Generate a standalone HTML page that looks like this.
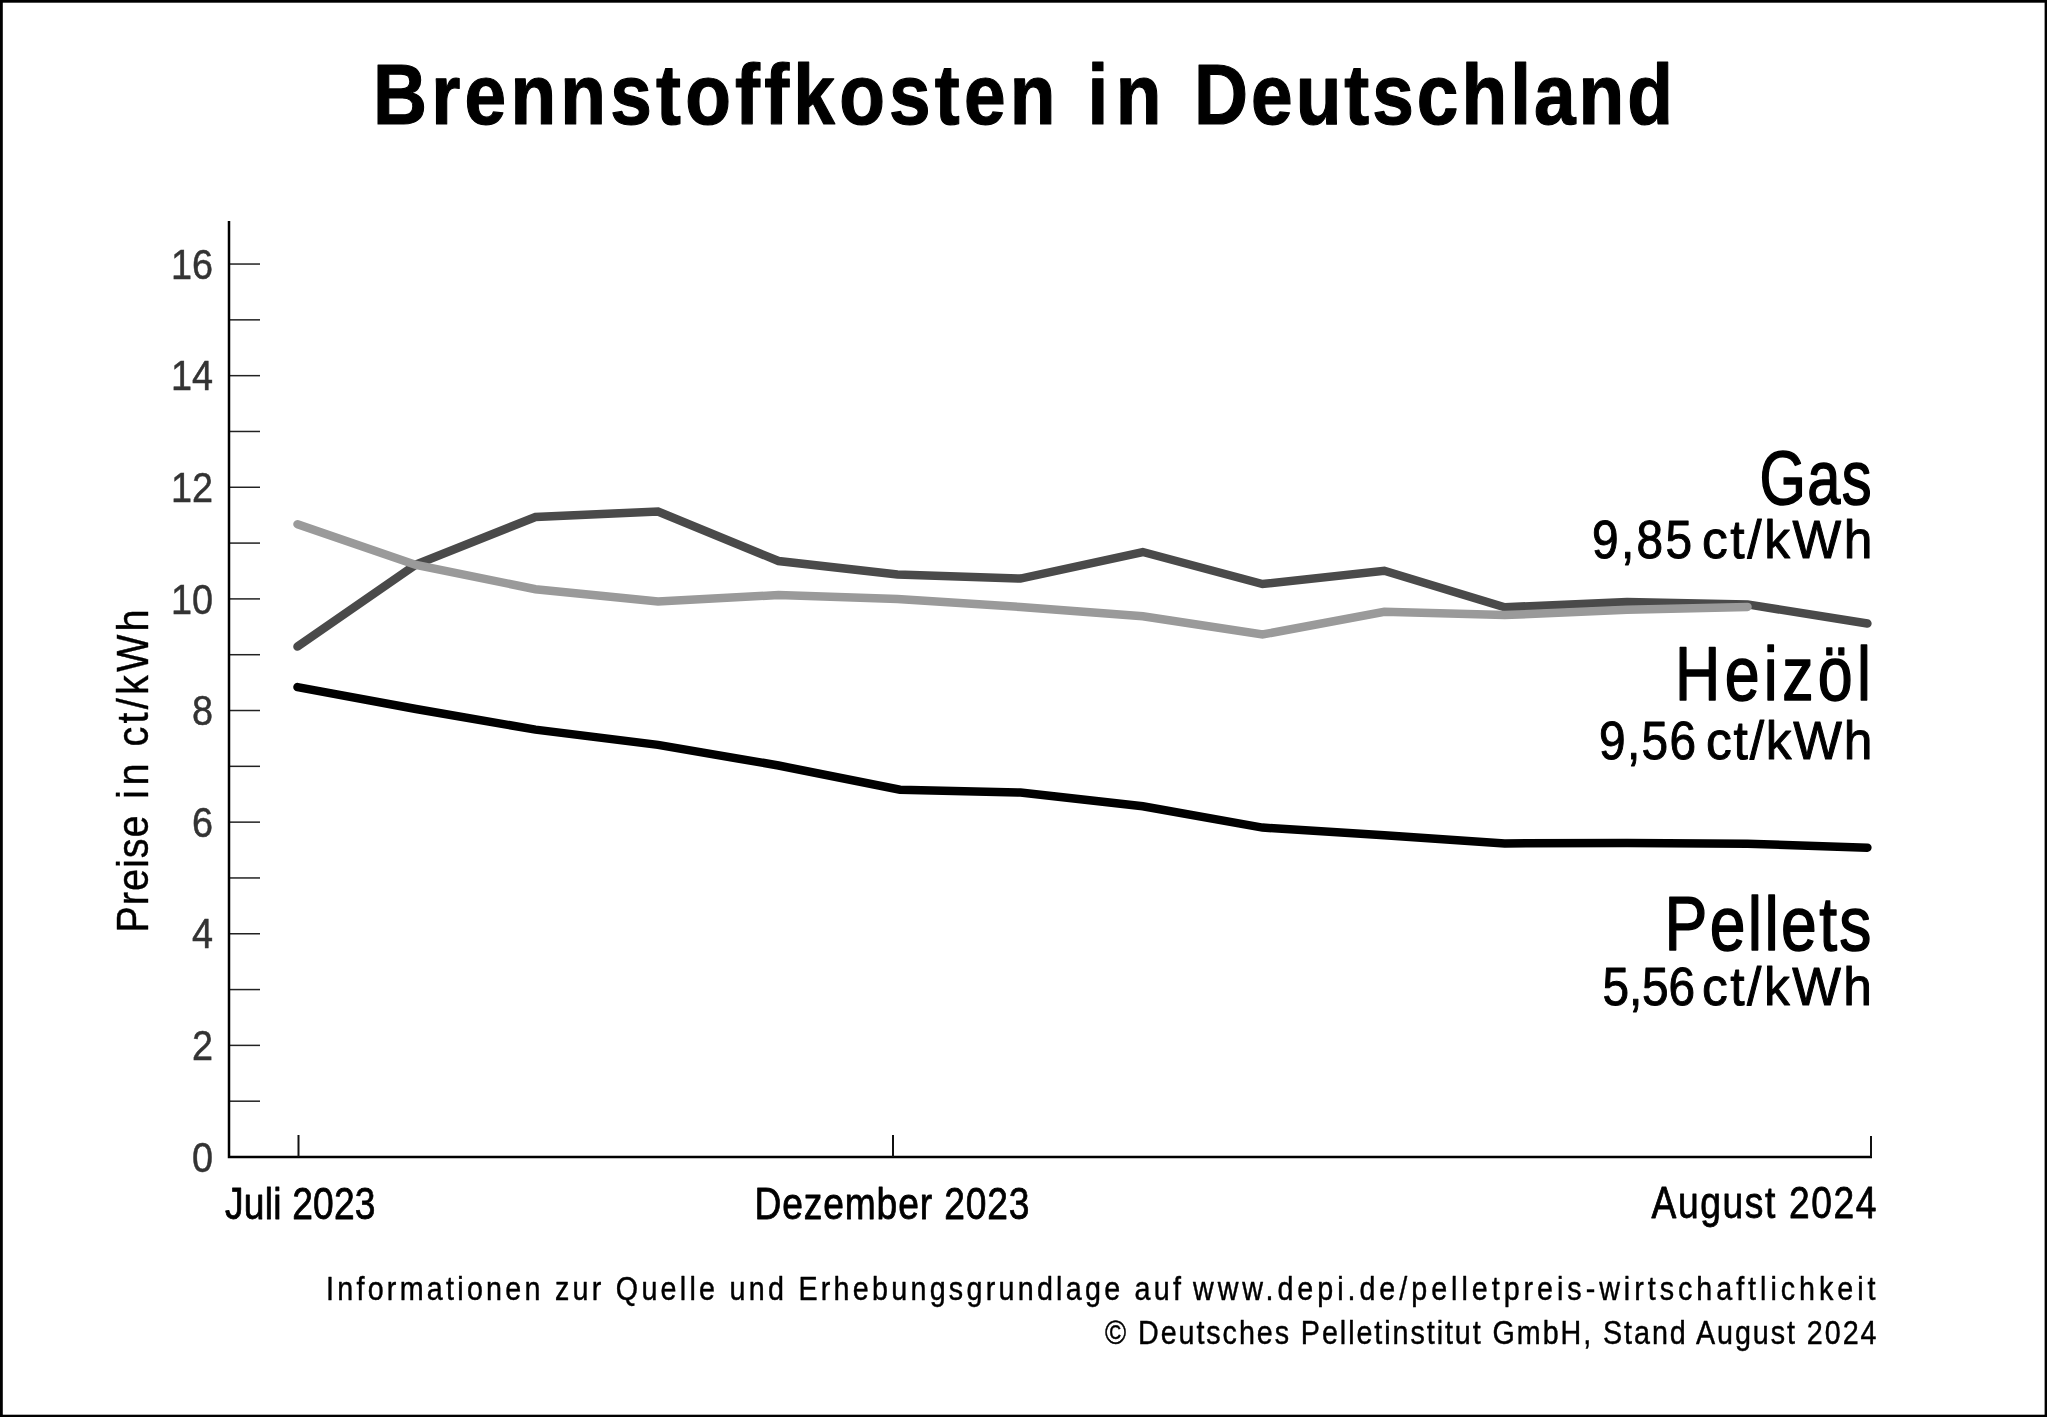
<!DOCTYPE html>
<html><head><meta charset="utf-8"><style>
html,body{margin:0;padding:0;background:#000;overflow:hidden;}
svg{display:block;will-change:transform;}
text{font-family:"Liberation Sans",sans-serif;}
</style></head><body>
<svg width="2047" height="1417" viewBox="0 0 2047 1417">
<rect x="2.8" y="2.7" width="2041.8" height="1412" fill="#fff"/>
<g stroke="#222" stroke-width="1.5"><line x1="230" y1="1101.19" x2="260" y2="1101.19"/><line x1="230" y1="1045.38" x2="260" y2="1045.38"/><line x1="230" y1="989.57" x2="260" y2="989.57"/><line x1="230" y1="933.76" x2="260" y2="933.76"/><line x1="230" y1="877.95" x2="260" y2="877.95"/><line x1="230" y1="822.14" x2="260" y2="822.14"/><line x1="230" y1="766.33" x2="260" y2="766.33"/><line x1="230" y1="710.52" x2="260" y2="710.52"/><line x1="230" y1="654.71" x2="260" y2="654.71"/><line x1="230" y1="598.90" x2="260" y2="598.90"/><line x1="230" y1="543.09" x2="260" y2="543.09"/><line x1="230" y1="487.28" x2="260" y2="487.28"/><line x1="230" y1="431.47" x2="260" y2="431.47"/><line x1="230" y1="375.66" x2="260" y2="375.66"/><line x1="230" y1="319.85" x2="260" y2="319.85"/><line x1="230" y1="264.04" x2="260" y2="264.04"/></g>
<g font-size="42" fill="#333" stroke="#333" stroke-width="0.5"><text transform="translate(213,1171.70) scale(0.9,1)" text-anchor="end">0</text><text transform="translate(213,1060.08) scale(0.9,1)" text-anchor="end">2</text><text transform="translate(213,948.46) scale(0.9,1)" text-anchor="end">4</text><text transform="translate(213,836.84) scale(0.9,1)" text-anchor="end">6</text><text transform="translate(213,725.22) scale(0.9,1)" text-anchor="end">8</text><text transform="translate(213,613.60) scale(0.9,1)" text-anchor="end">10</text><text transform="translate(213,501.98) scale(0.9,1)" text-anchor="end">12</text><text transform="translate(213,390.36) scale(0.9,1)" text-anchor="end">14</text><text transform="translate(213,278.74) scale(0.9,1)" text-anchor="end">16</text></g>
<polyline points="229,221 229,1157 1872,1157" stroke="#000" stroke-width="2.5" fill="none"/>
<g stroke="#111" stroke-width="2">
<line x1="298.5" y1="1135" x2="298.5" y2="1157"/>
<line x1="893" y1="1135" x2="893" y2="1157"/>
<line x1="1871" y1="1136" x2="1871" y2="1157"/>
</g>
<g fill="none" stroke-width="8.5" stroke-linecap="round" stroke-linejoin="miter">
<polyline stroke="#000" points="297.5,687.1 416.0,709.0 535.5,729.6 658.0,744.9 778.5,765.5 900.0,789.7 1020.5,792.5 1142.8,806.2 1262.5,827.6 1384.3,835.3 1504.7,843.4 1627.0,842.9 1747.5,843.8 1867.4,847.7"/>
<polyline stroke="#4a4a4a" points="297.5,646.6 416.0,564.5 535.5,517.0 658.0,511.5 778.5,561.0 897.5,574.5 1020.5,578.6 1142.8,552.0 1262.5,584.0 1384.3,570.8 1504.7,607.3 1627.0,602.0 1747.5,604.4 1867.4,623.5"/>
<polyline stroke="#9a9a9a" points="297.5,524.2 416.0,565.0 535.5,589.2 658.0,601.5 778.5,595.0 897.5,599.0 1020.5,607.0 1142.8,616.2 1262.5,634.5 1384.3,611.8 1504.7,615.1 1627.0,609.7 1747.5,606.9"/>
</g>
<text transform="translate(373.00,123.5) scale(0.88,1)" font-size="85" font-weight="bold" fill="#000" stroke="#000" stroke-width="1.2" stroke-linejoin="round" textLength="775.57" lengthAdjust="spacing">Brennstoffkosten</text><text transform="translate(1087.50,123.5) scale(0.88,1)" font-size="85" font-weight="bold" fill="#000" stroke="#000" stroke-width="1.2" stroke-linejoin="round" textLength="84.09" lengthAdjust="spacing">in</text><text transform="translate(1194.00,123.5) scale(0.88,1)" font-size="85" font-weight="bold" fill="#000" stroke="#000" stroke-width="1.2" stroke-linejoin="round" textLength="544.32" lengthAdjust="spacing">Deutschland</text><text transform="translate(225.00,1218.5) scale(0.84,1)" font-size="44.3" font-weight="normal" fill="#000" stroke="#000" stroke-width="0.8" stroke-linejoin="round" textLength="179.17" lengthAdjust="spacing">Juli 2023</text><text transform="translate(754.50,1218.5) scale(0.84,1)" font-size="44.3" font-weight="normal" fill="#000" stroke="#000" stroke-width="0.8" stroke-linejoin="round" textLength="327.38" lengthAdjust="spacing">Dezember 2023</text><text transform="translate(1651.50,1218.3) scale(0.84,1)" font-size="44.3" font-weight="normal" fill="#000" stroke="#000" stroke-width="0.8" stroke-linejoin="round" textLength="267.86" lengthAdjust="spacing">August 2024</text><text transform="translate(1759.50,503.6) scale(0.78,1)" font-size="76.5" font-weight="normal" fill="#000" stroke="#000" stroke-width="1.5" stroke-linejoin="round" textLength="143.59" lengthAdjust="spacing">Gas</text><text transform="translate(1592.00,558) scale(0.88,1)" font-size="54.3" font-weight="normal" fill="#000" stroke="#000" stroke-width="1.0" stroke-linejoin="round" textLength="113.64" lengthAdjust="spacing">9,85</text><text transform="translate(1702.00,558) scale(0.95,1)" font-size="54.3" font-weight="normal" fill="#000" stroke="#000" stroke-width="1.0" stroke-linejoin="round" textLength="179.47" lengthAdjust="spacing">ct/kWh</text><text transform="translate(1675.00,700.3) scale(0.82,1)" font-size="76.5" font-weight="normal" fill="#000" stroke="#000" stroke-width="1.5" stroke-linejoin="round" textLength="239.02" lengthAdjust="spacing">Heizöl</text><text transform="translate(1599.00,759.1) scale(0.88,1)" font-size="54.3" font-weight="normal" fill="#000" stroke="#000" stroke-width="1.0" stroke-linejoin="round" textLength="110.23" lengthAdjust="spacing">9,56</text><text transform="translate(1706.00,759.1) scale(0.95,1)" font-size="54.3" font-weight="normal" fill="#000" stroke="#000" stroke-width="1.0" stroke-linejoin="round" textLength="175.26" lengthAdjust="spacing">ct/kWh</text><text transform="translate(1664.50,949.9) scale(0.84,1)" font-size="76.5" font-weight="normal" fill="#000" stroke="#000" stroke-width="1.5" stroke-linejoin="round" textLength="246.43" lengthAdjust="spacing">Pellets</text><text transform="translate(1602.50,1004.8) scale(0.88,1)" font-size="54.3" font-weight="normal" fill="#000" stroke="#000" stroke-width="1.0" stroke-linejoin="round" textLength="105.11" lengthAdjust="spacing">5,56</text><text transform="translate(1702.00,1004.8) scale(0.95,1)" font-size="54.3" font-weight="normal" fill="#000" stroke="#000" stroke-width="1.0" stroke-linejoin="round" textLength="178.95" lengthAdjust="spacing">ct/kWh</text><text transform="translate(326.00,1300.2) scale(0.88,1)" font-size="32.6" font-weight="normal" fill="#000" stroke="#000" stroke-width="0.45" stroke-linejoin="round" textLength="971.59" lengthAdjust="spacing">Informationen zur Quelle und Erhebungsgrundlage auf</text><text transform="translate(1193.00,1300.2) scale(0.88,1)" font-size="32.6" font-weight="normal" fill="#000" stroke="#000" stroke-width="0.45" stroke-linejoin="round" textLength="775.57" lengthAdjust="spacing">www.depi.de/pelletpreis-wirtschaftlichkeit</text><text transform="translate(1105.00,1344) scale(0.88,1)" font-size="32.6" font-weight="normal" fill="#000" stroke="#000" stroke-width="0.45" stroke-linejoin="round" textLength="876.70" lengthAdjust="spacing">© Deutsches Pelletinstitut GmbH, Stand August 2024</text><text transform="translate(148,932.50) rotate(-90) scale(0.88,1)" font-size="45" fill="#000" stroke="#000" stroke-width="0.4" textLength="132.95" lengthAdjust="spacing">Preise</text><text transform="translate(148,799.00) rotate(-90) scale(0.88,1)" font-size="45" fill="#000" stroke="#000" stroke-width="0.4" textLength="40.34" lengthAdjust="spacing">in</text><text transform="translate(148,746.50) rotate(-90) scale(0.88,1)" font-size="45" fill="#000" stroke="#000" stroke-width="0.4" textLength="155.68" lengthAdjust="spacing">ct/kWh</text>
</svg>
</body></html>
